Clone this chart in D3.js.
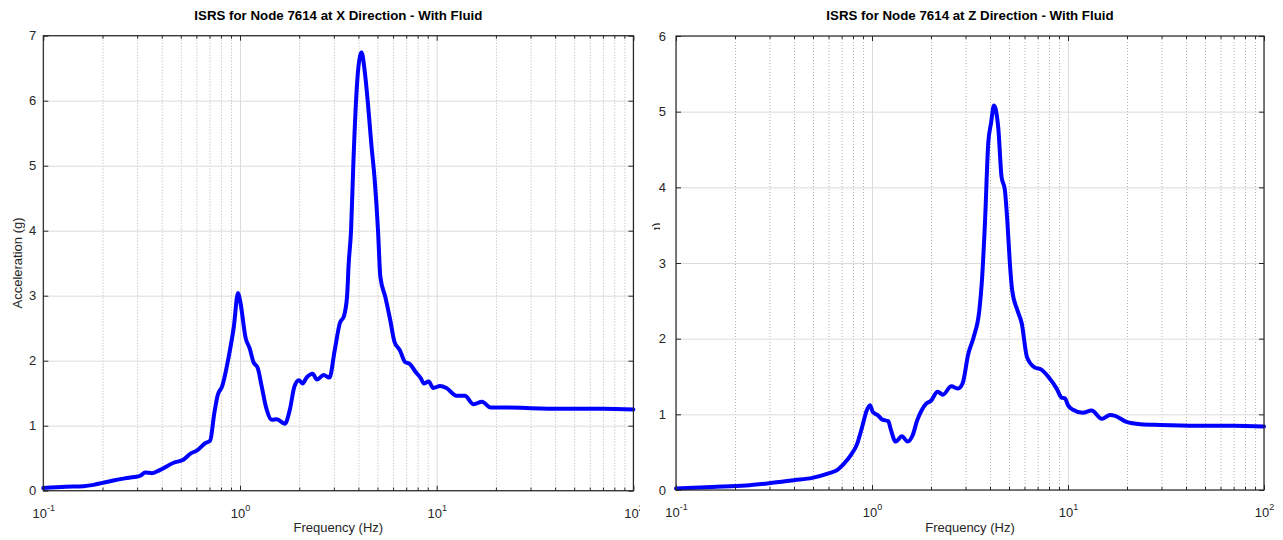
<!DOCTYPE html>
<html>
<head>
<meta charset="utf-8">
<script src="https://cdn.jsdelivr.net/npm/d3@7"></script>
<style>
  html, body { margin: 0; padding: 0; background: #fff; }
  svg { display: block; font-family: "Liberation Sans", Arial, Helvetica, sans-serif; }
</style>
</head>
<body>
<svg id="chart" width="1283" height="540"></svg>
<script>
// ---------------- data ----------------
const titles = ["ISRS for Node 7614 at X Direction - With Fluid", "ISRS for Node 7614 at Z Direction - With Fluid"];
const xLabel = "Frequency (Hz)";
const yLabel = "Acceleration (g)";

const freqX = [0.1, 0.13, 0.16, 0.18, 0.2, 0.23, 0.26, 0.29, 0.311, 0.33, 0.357, 0.393, 0.46, 0.517, 0.56, 0.605, 0.665, 0.705,
  0.74, 0.77, 0.81, 0.876, 0.93, 0.977, 1.0, 1.07, 1.12, 1.17, 1.23, 1.29, 1.36, 1.45, 1.54, 1.69, 1.79, 1.89, 1.99, 2.08,
  2.18, 2.34, 2.46, 2.66, 2.85, 3.03, 3.22, 3.37, 3.5, 3.57, 3.67, 3.77, 3.9, 4.0, 4.15, 4.3, 4.47, 4.65, 4.84, 5.03, 5.17,
  5.48, 5.8, 6.1, 6.5, 6.9, 7.3, 7.8, 8.3, 8.6, 9.1, 9.6, 10.4, 11.2, 12.6, 13.9, 15.4, 17.0, 18.8, 21.8, 30, 45, 70, 100];
const accX = [0.04, 0.06, 0.07, 0.09, 0.12, 0.16, 0.19, 0.21, 0.23, 0.28, 0.27, 0.32, 0.43, 0.48, 0.57, 0.62, 0.73, 0.77,
  1.19, 1.47, 1.6, 2.06, 2.52, 3.04, 2.93, 2.34, 2.19, 1.98, 1.89, 1.6, 1.27, 1.09, 1.1, 1.03, 1.24, 1.6, 1.7, 1.65,
  1.74, 1.8, 1.71, 1.78, 1.74, 2.16, 2.58, 2.68, 2.98, 3.5, 4.01, 5.04, 6.06, 6.52, 6.74, 6.47, 5.96, 5.34, 4.78, 4.01, 3.29,
  2.98, 2.63, 2.29, 2.16, 1.98, 1.95, 1.83, 1.73, 1.65, 1.68, 1.58, 1.61, 1.58, 1.46, 1.46, 1.33, 1.37, 1.28, 1.28, 1.27, 1.26, 1.26, 1.25];

const freqZ = [0.1, 0.153, 0.227, 0.298, 0.4, 0.496, 0.6, 0.66, 0.72, 0.78, 0.84, 0.89, 0.94, 0.977, 1.01, 1.07, 1.13, 1.21,
  1.25, 1.32, 1.42, 1.52, 1.61, 1.7, 1.79, 1.89, 2.0, 2.16, 2.3, 2.54, 2.75, 2.9, 3.1, 3.3, 3.53, 3.63, 3.77, 3.92, 4.05,
  4.19, 4.41, 4.58, 4.76, 4.91, 5.05, 5.19, 5.51, 5.81, 6.17, 6.75, 7.31, 7.97, 8.75, 9.28, 9.65, 10.0, 10.6, 11.9, 13.2,
  14.9, 16.4, 17.4, 19.9, 23.4, 29.4, 45, 70, 100];
const accZ = [0.02, 0.04, 0.06, 0.09, 0.13, 0.16, 0.22, 0.26, 0.35, 0.46, 0.61, 0.83, 1.05, 1.12, 1.03, 0.99, 0.93, 0.91,
  0.79, 0.64, 0.71, 0.64, 0.72, 0.92, 1.05, 1.14, 1.18, 1.3, 1.26, 1.37, 1.34, 1.41, 1.8, 2.02, 2.38, 2.73, 3.53, 4.59, 4.85,
  5.08, 4.78, 4.14, 3.97, 3.53, 3.0, 2.64, 2.38, 2.2, 1.76, 1.62, 1.59, 1.49, 1.34, 1.22, 1.21, 1.12, 1.06, 1.02, 1.05,
  0.94, 0.99, 0.98, 0.9, 0.87, 0.86, 0.85, 0.85, 0.84];

const xDecades = [0.1, 1, 10, 100];
const xDecadeExp = ["-1", "0", "1", "2"];
const yTicksX = [0, 1, 2, 3, 4, 5, 6, 7];
const yTicksZ = [0, 1, 2, 3, 4, 5, 6];

// ---------------- drawing ----------------
const svg = d3.select("#chart");
const defs = svg.append("defs");
defs.append("clipPath").attr("id", "leftClip").append("rect").attr("x", 0).attr("y", 0).attr("width", 640).attr("height", 540);
defs.append("clipPath").attr("id", "ylabFrag").append("rect").attr("x", 651).attr("y", 214).attr("width", 9).attr("height", 16);

const minorVals = [];
xDecades.slice(0, 3).forEach(d => { for (let k = 2; k <= 9; k++) minorVals.push(+(d * k).toPrecision(3)); });

function panel(opts) {
  const g = svg.append("g").attr("clip-path", opts.clip || null);
  const { x0, x1, y0, y1 } = opts;
  const x = d3.scaleLog().domain([0.1, 100]).range([x0, x1]);
  const y = d3.scaleLinear().domain([0, opts.yMax]).range([y1, y0]);
  const H = y1 - y0, W = x1 - x0;

  // minor vertical grid (dotted)
  g.append("g").attr("transform", `translate(0,${y1})`)
    .call(d3.axisBottom(x).tickValues(minorVals).tickSize(-H).tickFormat(""))
    .call(s => s.select(".domain").remove())
    .call(s => s.selectAll("line").attr("stroke", "#b3b3b3").attr("stroke-width", 1).attr("stroke-dasharray", "1,2"));
  // major vertical grid
  g.append("g").attr("transform", `translate(0,${y1})`)
    .call(d3.axisBottom(x).tickValues(xDecades).tickSize(-H).tickFormat(""))
    .call(s => s.select(".domain").remove())
    .call(s => s.selectAll("line").attr("stroke", "#dcdcdc").attr("stroke-width", 1));
  // horizontal grid
  g.append("g").attr("transform", `translate(${x0},0)`)
    .call(d3.axisLeft(y).tickValues(opts.yTicks).tickSize(-W).tickFormat(""))
    .call(s => s.select(".domain").remove())
    .call(s => s.selectAll("line").attr("stroke", "#dcdcdc").attr("stroke-width", 1));

  // curve
  const line = d3.line().x(d => x(d[0])).y(d => y(d[1])).curve(d3.curveMonotoneX);
  g.append("path").datum(opts.freq.map((f, i) => [f, opts.acc[i]]))
    .attr("d", line).attr("fill", "none").attr("stroke", "#0000ff")
    .attr("stroke-width", 4).attr("stroke-linejoin", "round").attr("stroke-linecap", "round");

  const axisCol = "#262626";
  // bottom axis with major ticks inward
  const bx = g.append("g").attr("transform", `translate(0,${y1})`)
    .call(d3.axisBottom(x).tickValues(xDecades).tickSize(-5).tickFormat(""));
  bx.select(".domain").remove();
  bx.selectAll("line").attr("stroke", axisCol);
  bx.selectAll(".tick").append("text")
    .attr("y", 27).attr("fill", axisCol).attr("font-size", 13).attr("text-anchor", "middle")
    .each(function(d, i) {
      const t = d3.select(this);
      t.append("tspan").text("10");
      t.append("tspan").attr("dy", -7).attr("font-size", 9).text(xDecadeExp[i]);
    });
  // bottom minor ticks
  g.append("g").attr("transform", `translate(0,${y1})`)
    .call(d3.axisBottom(x).tickValues(minorVals).tickSize(-3).tickFormat(""))
    .call(s => s.select(".domain").remove())
    .call(s => s.selectAll("line").attr("stroke", axisCol));
  // top ticks
  g.append("g").attr("transform", `translate(0,${y0})`)
    .call(d3.axisTop(x).tickValues(xDecades).tickSize(-5).tickFormat(""))
    .call(s => s.select(".domain").remove())
    .call(s => s.selectAll("line").attr("stroke", axisCol));
  g.append("g").attr("transform", `translate(0,${y0})`)
    .call(d3.axisTop(x).tickValues(minorVals).tickSize(-3).tickFormat(""))
    .call(s => s.select(".domain").remove())
    .call(s => s.selectAll("line").attr("stroke", axisCol));
  // left axis
  const ly = g.append("g").attr("transform", `translate(${x0},0)`)
    .call(d3.axisLeft(y).tickValues(opts.yTicks).tickSize(-5).tickPadding(opts.yPad).tickFormat(d3.format("d")));
  ly.select(".domain").remove();
  ly.selectAll("line").attr("stroke", axisCol);
  ly.selectAll("text").attr("fill", axisCol).attr("font-size", 13)
    .attr("font-family", "'Liberation Sans', Arial, sans-serif");
  // right ticks
  g.append("g").attr("transform", `translate(${x1},0)`)
    .call(d3.axisRight(y).tickValues(opts.yTicks).tickSize(-5).tickFormat(""))
    .call(s => s.select(".domain").remove())
    .call(s => s.selectAll("line").attr("stroke", axisCol));
  // frame
  g.append("rect").attr("x", x0).attr("y", y0).attr("width", W).attr("height", H)
    .attr("fill", "none").attr("stroke", axisCol).attr("stroke-width", 1.2);

  // title
  g.append("text").attr("x", (x0 + x1) / 2).attr("y", 20).attr("text-anchor", "middle")
    .attr("font-weight", "bold").attr("font-size", 13.3).attr("fill", "#000").text(opts.title);
  // x label
  g.append("text").attr("x", (x0 + x1) / 2).attr("y", 532).attr("text-anchor", "middle")
    .attr("font-size", 13).attr("fill", axisCol).text(xLabel);
  return { x, y };
}

panel({ x0: 43.3, x1: 633.4, y0: 35.7, y1: 490.7, yMax: 7, yTicks: yTicksX, yPad: 7,
        freq: freqX, acc: accX, title: titles[0], clip: "url(#leftClip)" });
panel({ x0: 676, x1: 1264, y0: 36, y1: 490, yMax: 6, yTicks: yTicksZ, yPad: 10,
        freq: freqZ, acc: accZ, title: titles[1] });

// y label (left panel)
svg.append("text").attr("transform", "translate(22,263) rotate(-90)")
  .attr("text-anchor", "middle").attr("font-size", 13).attr("fill", "#262626").text(yLabel);
// clipped fragment of the right panel's y label
svg.append("g").attr("clip-path", "url(#ylabFrag)")
  .append("text").attr("transform", "translate(661,268) rotate(-90)")
  .attr("text-anchor", "middle").attr("font-size", 13).attr("fill", "#262626").text(yLabel);
</script>
</body>
</html>
